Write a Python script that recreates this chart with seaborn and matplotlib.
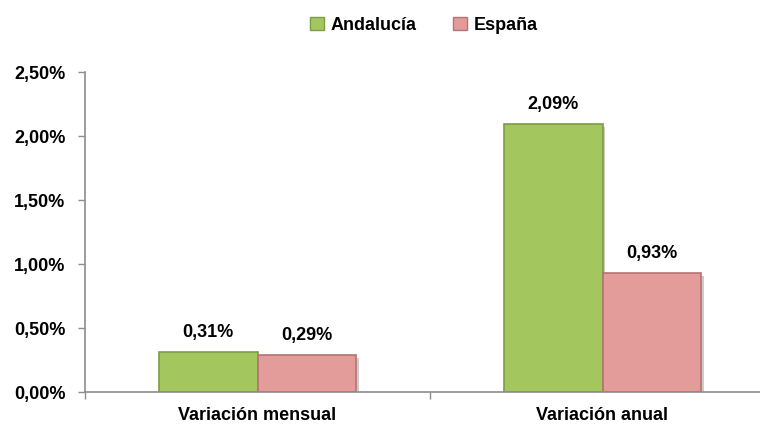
import pandas as pd
import matplotlib
matplotlib.use("Agg")
import matplotlib.pyplot as plt
import matplotlib.patheffects as pe
import seaborn as sns
from matplotlib.ticker import FuncFormatter, FixedLocator

# data
categories = ["Variación mensual", "Variación anual"]
andalucia = [0.31, 2.09]
espana = [0.29, 0.93]
series = ["Andalucía", "España"]

df = pd.DataFrame({
    "categoria": categories * 2,
    "serie": [series[0]] * 2 + [series[1]] * 2,
    "valor": andalucia + espana,
})

sns.set_style("white")
plt.rcParams["font.family"] = ["Liberation Sans Narrow", "Liberation Sans", "DejaVu Sans"]
plt.rcParams["font.weight"] = "bold"
plt.rcParams["text.color"] = "black"
plt.rcParams["xtick.color"] = "black"
plt.rcParams["ytick.color"] = "black"

fig = plt.figure(figsize=(7.6, 4.33), dpi=100)
ax = fig.add_axes([85 / 760, 41 / 433, 690 / 760, 320 / 433])

colors = {"Andalucía": "#a3c65f", "España": "#e49c9b"}
sns.barplot(data=df, x="categoria", y="valor", hue="serie", palette=colors,
            saturation=1, width=0.57, ax=ax, legend=False)

edges = {"Andalucía": "#7d9c48", "España": "#b57372"}
for cont, name in zip(ax.containers, series):
    for bar in cont:
        bar.set_edgecolor(edges[name])
        bar.set_linewidth(1.2)
        bar.set_path_effects([pe.SimplePatchShadow(offset=(2, -2), alpha=0.25), pe.Normal()])
    ax.bar_label(cont, labels=[f"{v:.2f}%".replace(".", ",") for v in cont.datavalues],
                 padding=8, fontsize=13, fontweight="bold", color="black")

ax.set_xlim(-0.5, 1.5)
ax.set_ylim(0, 2.5)
ax.yaxis.set_major_locator(FixedLocator([0, 0.5, 1.0, 1.5, 2.0, 2.5]))
ax.yaxis.set_major_formatter(FuncFormatter(lambda v, p: f"{v:.2f}%".replace(".", ",")))

ax.set_xlabel("")
ax.set_ylabel("")
for s in ["top", "right"]:
    ax.spines[s].set_visible(False)
for s in ["left", "bottom"]:
    ax.spines[s].set_color("#8c8c8c")
    ax.spines[s].set_linewidth(1.2)

ax.tick_params(axis="y", direction="out", length=5, color="#8c8c8c", width=1,
               left=True, labelsize=13, pad=9, labelcolor="black")
ax.tick_params(axis="x", which="major", length=0, labelsize=13, pad=11, labelcolor="black")
ax.xaxis.set_minor_locator(FixedLocator([-0.5, 0.5, 1.5]))
ax.tick_params(axis="x", which="minor", direction="out", length=5, color="#8c8c8c",
               width=1, bottom=True)
for lab in ax.get_xticklabels() + ax.get_yticklabels():
    lab.set_fontweight("bold")

handles = [plt.Rectangle((0, 0), 1, 1, facecolor=colors[n], edgecolor=edges[n]) for n in series]
fig.legend(handles, series, loc="upper center", bbox_to_anchor=(0.558, 0.998), ncol=2,
           frameon=False, handlelength=0.75, handleheight=0.75,
           handletextpad=0.4, columnspacing=2.0, prop={"weight": "bold", "size": 13})

fig.savefig("out.png", dpi=100)
